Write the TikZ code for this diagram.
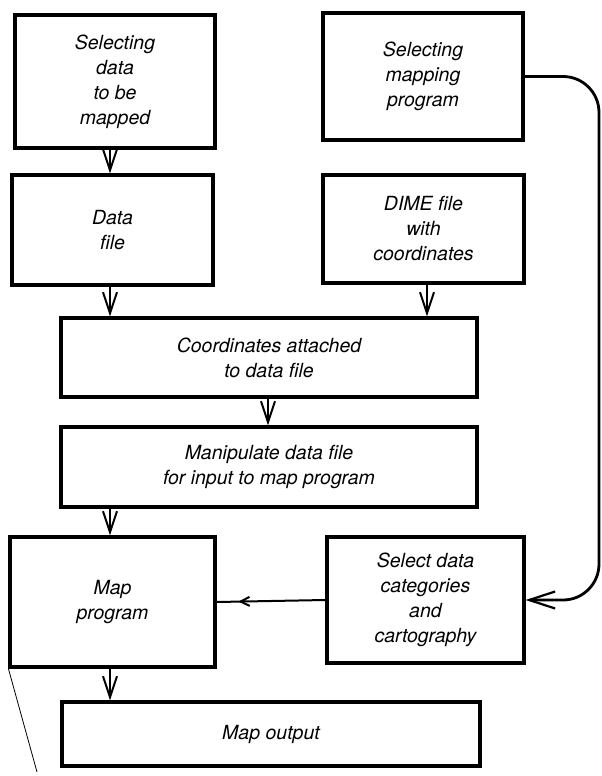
\documentclass[tikz,border=0pt]{standalone}
\usepackage{fontspec}
\setmainfont{TeX Gyre Heros}
\usetikzlibrary{calc}
\usetikzlibrary{arrows.meta}
\usetikzlibrary{decorations.markings}

\tikzset{
 box/.style={draw, line width=3.2pt, align=center, inner sep=0pt,
  font=\fontsize{19.5}{25}\selectfont\itshape},
 flow/.style={line width=2pt, -{Straight Barb[length=21pt,width=14pt]}},
}

\begin{document}
\begin{tikzpicture} [x=1pt, y=-1pt]
\useasboundingbox (0,0) rectangle (602,776);
\node[box, minimum width=200, minimum height=133] (sel)     at (115,81.5)  {Selecting\\data\\to be\\mapped};
\node[box, minimum width=201, minimum height=110] (data)    at (112.5,230) {Data\\file};
\node[box, minimum width=200, minimum height=127] (mapsel)  at (423,76.5)  {Selecting\\mapping\\program};
\node[box, minimum width=201, minimum height=108] (dime)    at (423.5,229) {DIME file\\with\\coordinates};
\node[box, minimum width=416, minimum height=79]  (coord)   at (269,357.5) {Coordinates attached\\to data file};
\node[box, minimum width=416, minimum height=80]  (manip)   at (269,467)   {Manipulate data file\\for input to map program};
\node[box, minimum width=205, minimum height=130] (mapprog) at (112.5,602) {Map\\program};
\node[box, minimum width=197, minimum height=126] (catsel)  at (425.5,600) {Select data\\categories\\and\\cartography};
\node[box, minimum width=418, minimum height=64]  (output)  at (271,734)   {Map output};
\foreach \a/\b/\x in {sel/data/110, data/coord/110, dime/coord/427, coord/manip/268, manip/mapprog/110, mapprog/output/110} {
 \draw[flow] (\x,0 |- \a.south) -- (\x,0 |- \b.north);
}
\coordinate (bend) at (599,600);
\draw[line width=2.8pt, -{Straight Barb[length=26pt,width=17pt,line width=2.2pt]}, rounded corners=36pt] (mapsel.east) -| (bend) -- (catsel.east);
\draw[line width=2pt, decoration={markings, mark=at position 0.8 with {\arrow{Straight Barb[length=9pt,width=9pt]}}}, postaction={decorate}] (catsel.west) -- (mapprog.east);
\coordinate (tail) at (37,772);
\draw[line width=0.8pt] (mapprog.south west) -- (tail);
\end{tikzpicture}
\end{document}
